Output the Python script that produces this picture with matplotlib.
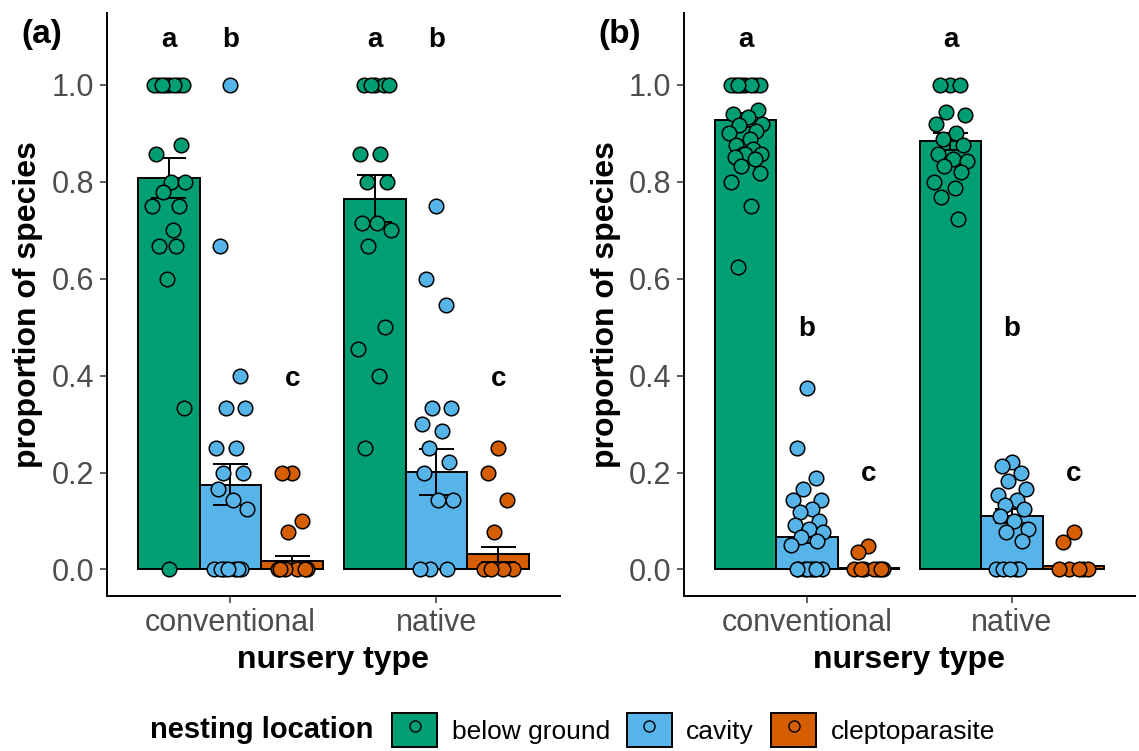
import matplotlib.pyplot as plt
from matplotlib.patches import Patch
from matplotlib.lines import Line2D

plt.rcParams['font.family'] = ['Liberation Sans', 'DejaVu Sans']

# ---------------- Data ----------------
nursery_types = ["conventional", "native"]
nest_locations = ["below ground", "cavity", "cleptoparasite"]
nest_colors = ["#009E73", "#56B4E9", "#D55E00"]

# bar means and standard errors, panel (a)
a_means = {"conventional": [0.807, 0.175, 0.018], "native": [0.765, 0.201, 0.031]}
a_se = {"conventional": [0.041, 0.043, 0.010], "native": [0.049, 0.048, 0.016]}
# bar means and standard errors, panel (b)
b_means = {"conventional": [0.927, 0.068, 0.004], "native": [0.883, 0.110, 0.007]}
b_se = {"conventional": [0.014, 0.014, 0.002], "native": [0.017, 0.015, 0.003]}

# per-site proportions, panel (a)
a_points = {
    "conventional": [
        [1, 1, 1, 1, 1, 1, 1, 1, 0.875, 0.857, 0.8, 0.8, 0.778, 0.75, 0.75,
         0.7, 0.667, 0.667, 0.6, 0.333, 0],
        [1, 0.667, 0.4, 0.333, 0.333, 0.25, 0.25, 0.2, 0.2, 0.167, 0.143,
         0.125, 0, 0, 0, 0, 0, 0, 0],
        [0.2, 0.2, 0.1, 0.077, 0, 0, 0, 0, 0, 0],
    ],
    "native": [
        [1, 1, 1, 1, 1, 0.857, 0.857, 0.8, 0.8, 0.714, 0.714, 0.7, 0.667,
         0.5, 0.455, 0.4, 0.25],
        [0.75, 0.6, 0.545, 0.333, 0.333, 0.3, 0.286, 0.25, 0.222, 0.2,
         0.143, 0.143, 0, 0, 0],
        [0.25, 0.2, 0.143, 0.077, 0, 0, 0, 0],
    ],
}
# per-site proportions, panel (b)
b_points = {
    "conventional": [
        [1, 1, 1, 1, 1, 1, 1, 1, 0.947, 0.94, 0.933, 0.92, 0.917, 0.905, 0.9,
         0.889, 0.875, 0.867, 0.857, 0.857, 0.857, 0.85, 0.846, 0.833, 0.818,
         0.8, 0.75, 0.625],
        [0.375, 0.25, 0.188, 0.167, 0.143, 0.143, 0.125, 0.118, 0.1, 0.091,
         0.083, 0.077, 0.067, 0.059, 0.05, 0, 0, 0, 0, 0, 0, 0, 0],
        [0.048, 0.036, 0, 0, 0, 0, 0, 0, 0],
    ],
    "native": [
        [1, 1, 1, 0.944, 0.938, 0.92, 0.9, 0.889, 0.875, 0.857, 0.846, 0.842,
         0.833, 0.821, 0.8, 0.786, 0.769, 0.722],
        [0.222, 0.214, 0.2, 0.182, 0.167, 0.154, 0.143, 0.133, 0.125, 0.111,
         0.1, 0.083, 0.077, 0.059, 0, 0, 0, 0, 0],
        [0.077, 0.056, 0, 0, 0, 0, 0],
    ],
}

# significance letters: (letter, height)
a_letters = {"conventional": [("a", 1.093), ("b", 1.093), ("c", 0.393)],
             "native": [("a", 1.093), ("b", 1.093), ("c", 0.393)]}
b_letters = {"conventional": [("a", 1.093), ("b", 0.497), ("c", 0.197)],
             "native": [("a", 1.093), ("b", 0.497), ("c", 0.197)]}

yticks = [0.0, 0.2, 0.4, 0.6, 0.8, 1.0]

# deterministic horizontal spread for the points
spread = [0.0, -0.05, 0.045, -0.02, 0.07, -0.07, 0.025, -0.035, 0.06, -0.06,
          0.01, 0.08, -0.03, 0.05, -0.08, 0.02, -0.045, 0.035, -0.01, 0.075]

BAR_W = 0.3


def draw_panel(ax, means, ses, points, letters, tag):
    for gi, nt in enumerate(nursery_types):
        center = gi + 1
        for k in range(3):
            x = center + (k - 1) * BAR_W
            col = nest_colors[k]
            ax.bar(x, means[nt][k], width=BAR_W, color=col, edgecolor="black",
                   linewidth=1.4, zorder=2)
            m, s = means[nt][k], ses[nt][k]
            ax.vlines(x, m - s, m + s, color="black", linewidth=1.4, zorder=3)
            ax.hlines([m - s, m + s], x - 0.085, x + 0.085, color="black",
                      linewidth=1.4, zorder=3)
            vals = points[nt][k]
            xs = [x + spread[i % len(spread)] for i in range(len(vals))]
            ax.scatter(xs, vals, s=110, color=col, edgecolor="black",
                       linewidth=1.1, zorder=4)
            lt, ly = letters[nt][k]
            ax.text(x, ly, lt, ha="center", va="center", fontsize=20,
                    fontweight="bold")

    ax.set_xlim(0.4, 2.6)
    ax.set_ylim(-0.0547, 1.148)
    ax.set_yticks(yticks)
    ax.set_yticklabels([f"{v:.1f}" for v in yticks])
    ax.set_xticks([1, 2])
    ax.set_xticklabels(nursery_types)
    ax.tick_params(labelsize=22, labelcolor="#4D4D4D", color="#333333",
                   length=5, width=1.1, pad=4)
    for side in ["top", "right"]:
        ax.spines[side].set_visible(False)
    for side in ["left", "bottom"]:
        ax.spines[side].set_linewidth(1.4)
    ax.set_xlabel("nursery type", fontsize=23, fontweight="bold", labelpad=5)
    ax.set_ylabel("proportion of species", fontsize=23, fontweight="bold",
                  labelpad=6)
    ax.text(-0.19, 0.963, tag, transform=ax.transAxes, fontsize=24,
            fontweight="bold", ha="left", va="center")


fig = plt.figure(figsize=(11.39, 7.51), dpi=100)
ax_a = fig.add_axes([0.0939, 0.2064, 0.3977, 0.7763])
ax_b = fig.add_axes([0.6005, 0.2064, 0.396, 0.7763])

draw_panel(ax_a, a_means, a_se, a_points, a_letters, "(a)")
draw_panel(ax_b, b_means, b_se, b_points, b_letters, "(b)")

# legend along the bottom
handles = []
for col in nest_colors:
    box = Patch(facecolor=col, edgecolor="black", linewidth=1.4)
    dot = Line2D([], [], marker="o", linestyle="none", markersize=8,
                 markerfacecolor=col, markeredgecolor="black",
                 markeredgewidth=1.0)
    handles.append((box, dot))

fig.text(150 / 1139, 1 - 730 / 751, "nesting location", fontsize=21,
         fontweight="bold", ha="left", va="center")
fig.legend(handles, nest_locations, loc="center left",
           bbox_to_anchor=(379 / 1139, 1 - 730 / 751), ncol=3, fontsize=19,
           frameon=False, handlelength=1.7, handleheight=1.6,
           handletextpad=0.55, columnspacing=0.65, borderpad=0)

fig.savefig("out.png", dpi=100)
